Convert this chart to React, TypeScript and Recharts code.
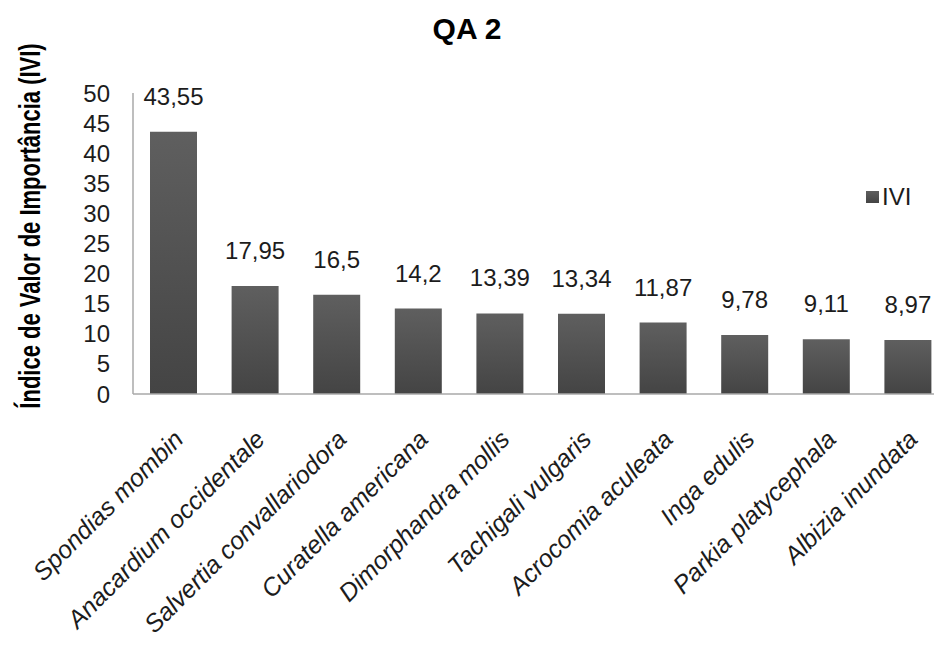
import React from "react";
import { BarChart, Bar, XAxis, YAxis, LabelList, Legend } from "recharts";

const SPECIES = [
  "Spondias mombin",
  "Anacardium occidentale",
  "Salvertia convallariodora",
  "Curatella americana",
  "Dimorphandra mollis",
  "Tachigali vulgaris",
  "Acrocomia aculeata",
  "Inga edulis",
  "Parkia platycephala",
  "Albizia inundata",
];

const IVI = [43.55, 17.95, 16.5, 14.2, 13.39, 13.34, 11.87, 9.78, 9.11, 8.97];

const Y_TICKS = [0, 5, 10, 15, 20, 25, 30, 35, 40, 45, 50];

const data = SPECIES.map((name, i) => ({ name, ivi: IVI[i] }));

const FONT = '"Liberation Sans", Arial, sans-serif';
const TEXT = "#1c1c1c";

// decimal comma, as in the source sheet
const fmt = (v: number) => String(v).replace(".", ",");

function SpeciesTick({ x, y, payload }: any) {
  const tx = x + 11;
  const ty = y + 39;
  return (
    <text
      x={tx}
      y={ty}
      transform={`rotate(-45, ${tx}, ${ty})`}
      textAnchor="end"
      fontFamily={FONT}
      fontSize={25}
      fontStyle="italic"
      fill={TEXT}
    >
      {payload.value}
    </text>
  );
}

function YTitle() {
  return (
    <text
      transform="translate(40, 226) rotate(-90) scale(1, 1.3)"
      textAnchor="middle"
      fontFamily={FONT}
      fontSize={22}
      fontWeight="bold"
      fill="#000"
    >
      Índice de Valor de Importância (IVI)
    </text>
  );
}

function LegendBox() {
  return (
    <div style={{ display: "flex", alignItems: "center", fontFamily: FONT, fontSize: 24, color: TEXT }}>
      <span
        style={{
          display: "inline-block",
          width: 13,
          height: 12,
          marginRight: 3,
          background: "linear-gradient(#5e5e5e, #444444)",
        }}
      />
      IVI
    </div>
  );
}

export default function App() {
  return (
    <div style={{ position: "absolute", left: 0, top: 0, width: 934, height: 650, overflow: "hidden", background: "#fff" }}>
      <div
        style={{
          position: "absolute",
          left: 0,
          width: 934,
          top: 14,
          textAlign: "center",
          fontFamily: FONT,
          fontWeight: "bold",
          fontSize: 30,
          lineHeight: "30px",
          color: "#000",
          zIndex: 2,
        }}
      >
        QA 2
      </div>
      <BarChart
        width={960}
        height={650}
        data={data}
        margin={{ top: 93, right: 11, bottom: 6, left: 0 }}
        barSize={47}
      >
        <defs>
          <linearGradient id="barFill" x1="0" y1="0" x2="0" y2="1">
            <stop offset="0%" stopColor="#5f5f5f" />
            <stop offset="100%" stopColor="#444444" />
          </linearGradient>
        </defs>
        <XAxis
          dataKey="name"
          interval={0}
          height={250}
          tickLine={false}
          axisLine={{ stroke: "#a8a8a8", strokeWidth: 1.5 }}
          tick={<SpeciesTick />}
        />
        <YAxis
          width={133}
          domain={[0, 50]}
          ticks={Y_TICKS}
          interval={0}
          tickLine={false}
          tickSize={0}
          tickMargin={23}
          axisLine={{ stroke: "#a8a8a8", strokeWidth: 1.5 }}
          tick={{ fill: TEXT, fontSize: 24, fontFamily: FONT }}
          label={<YTitle />}
        />
        <Legend
          layout="horizontal"
          verticalAlign="middle"
          align="center"
          content={<LegendBox />}
          wrapperStyle={{ position: "absolute", left: 866, top: 183, width: "auto", height: "auto" }}
        />
        <Bar dataKey="ivi" name="IVI" fill="url(#barFill)" isAnimationActive={false}>
          <LabelList
            dataKey="ivi"
            position="top"
            offset={27}
            formatter={(v: any) => fmt(Number(v))}
            style={{ fill: TEXT, fontSize: 24, fontFamily: FONT }}
          />
        </Bar>
      </BarChart>
    </div>
  );
}
